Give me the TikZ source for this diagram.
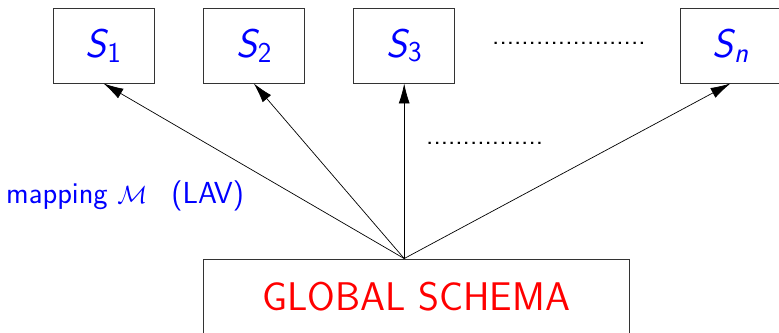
\documentclass[tikz,border=0pt]{standalone}
\usepackage{graphicx}
\usetikzlibrary{arrows.meta}
\renewcommand{\familydefault}{\sfdefault}
\newcommand{\Sidx}[1]{\textsl{S}\kern-0.04em\raisebox{-0.28ex}{\scalebox{0.72}{#1}}}
\begin{document}
\begin{tikzpicture}[x=1pt,y=-1pt,
  srcbox/.style={draw=black!80,line width=0.9pt,minimum width=101pt,minimum height=75pt,inner sep=0pt,
    text=blue,font=\fontsize{40}{44}\selectfont},
  glob/.style={draw=black!80,line width=0.9pt,minimum width=426pt,minimum height=75pt,inner sep=0pt,
    text=red,font=\fontsize{40}{44}\selectfont},
  arr/.style={-{Latex[length=20pt,width=11pt]},line width=0.7pt},
  dotsty/.style={inner sep=0pt,anchor=base west,font=\fontsize{28}{30}\selectfont},
  lbl/.style={inner sep=0pt,anchor=base west,text=blue,font=\fontsize{30.4}{33}\selectfont}]
\useasboundingbox (0,0) rectangle (779,332);
\node[srcbox] (S1) at (103.5,45.5) {\Sidx{1}};
\node[srcbox] (S2) at (253.8,45.5) {\Sidx{2}};
\node[srcbox] (S3) at (404.2,45.5) {\Sidx{3}};
\node[srcbox] (Sn) at (730.5,45.5) {\Sidx{\textsl{n}}};
\node[glob] (G) at (416.3,296.5) {GLOBAL SCHEMA};
\coordinate (apex) at (S3.south |- G.north);
\node[dotsty] (d1) at (492,44.5) {.....................};
\node[dotsty] (d2) at (426,144) {................};
\node[lbl] (map) at (6,203) {mapping $\mathcal{M}$\hspace{0.8em}(LAV)};
\draw[arr] (apex) -- (S1.south);
\draw[arr] (apex) -- (S2.south);
\draw[arr] (apex) -- (S3.south);
\draw[arr] (apex) -- (Sn.south);
\end{tikzpicture}
\end{document}
